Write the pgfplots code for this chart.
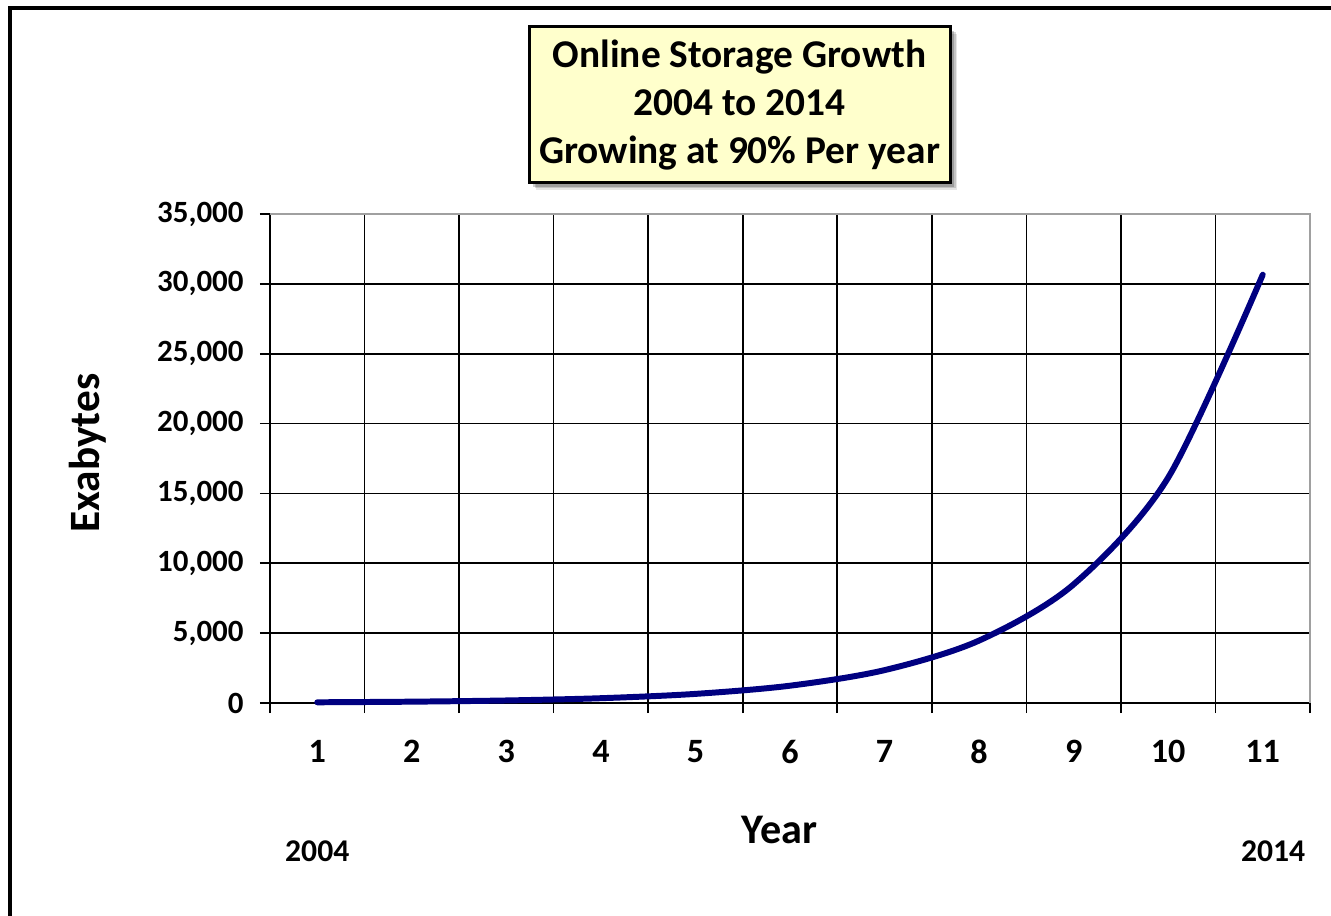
\documentclass[border=0pt]{standalone}
\usepackage{fontspec}
\setmainfont{Carlito}
\usepackage{pgfplots}
\pgfplotsset{compat=1.18}

\definecolor{curvenavy}{RGB}{0,0,128}
\definecolor{titlefill}{RGB}{255,255,204}
\definecolor{bordergray}{RGB}{160,160,160}

\begin{document}
\begin{tikzpicture}[x=1cm,y=1cm]
\useasboundingbox (0,0) rectangle (13.31,9.15);

% outer frame (top and left edges)
\draw[line width=0.04cm] (0.10,-0.2) -- (0.10,9.07) -- (13.5,9.07);

% title box with soft shadow
\foreach \s/\o in {0.07/0.10,0.055/0.15,0.04/0.20}{
  \fill[black, opacity=\o] (5.29+\s,8.88-\s) rectangle (9.50+\s,7.32-\s);
}
\draw[line width=0.03cm, fill=titlefill] (5.29,8.88) rectangle (9.50,7.32);
\node[align=center, font=\bfseries\fontsize{11.2}{13.7}\selectfont] at (7.395,8.10)
  {Online Storage Growth\\2004 to 2014\\Growing at 90\% Per year};

\begin{axis}[
  at={(2.70cm,2.12cm)}, anchor=south west,
  scale only axis, width=10.40cm, height=4.89cm,
  xmin=0.5, xmax=11.5, ymin=0, ymax=35000,
  xtick={1,...,11},
  every major x tick/.append style={draw=none},
  minor xtick={0.5,1.5,...,11.5},
  xminorgrids, ymajorgrids,
  ytick={0,5000,...,35000},
  tick pos=left,
  tick align=outside,
  major tick length=0.1cm, minor tick length=0.1cm,
  tick style={black, line width=0.45pt},
  grid style={black, line width=0.45pt},
  minor grid style={black, line width=0.45pt},
  axis line style={black, line width=0.45pt},
  scaled y ticks=false,
  /pgf/number format/.cd, 1000 sep={,}, assume math mode=true, /pgfplots/.cd,
  yticklabel style={font=\bfseries\fontsize{8.8}{10}\selectfont, xshift=-0.04cm},
  xticklabel style={font=\bfseries\fontsize{9.7}{11}\selectfont, yshift=-0.15cm},
  xlabel={Year},
  xlabel style={font=\bfseries\fontsize{12}{14}\selectfont, at={(rel axis cs:0.49,-0.26)}, anchor=center},
  ylabel={Exabytes},
  ylabel style={font=\bfseries\fontsize{12.3}{14}\selectfont, at={(rel axis cs:-0.175,0.511)}, anchor=center, rotate=0},
  clip=false,
]
\addplot[curvenavy, line width=1.7pt, smooth, line cap=round] coordinates {
  (1,50) (2,95) (3,181) (4,343) (5,652) (6,1238)
  (7,2352) (8,4469) (9,8492) (10,16134) (11,30654)
};
\draw[bordergray, line width=0.5pt] (rel axis cs:0,1) -- (rel axis cs:1,1) -- (rel axis cs:1,0);
\node[font=\bfseries\fontsize{9}{11}\selectfont] at ({axis cs:1,0} |- {rel axis cs:0,-0.303}) {2004};
\node[font=\bfseries\fontsize{9}{11}\selectfont] at ({axis cs:11.11,0} |- {rel axis cs:0,-0.303}) {2014};
\end{axis}
\end{tikzpicture}
\end{document}
